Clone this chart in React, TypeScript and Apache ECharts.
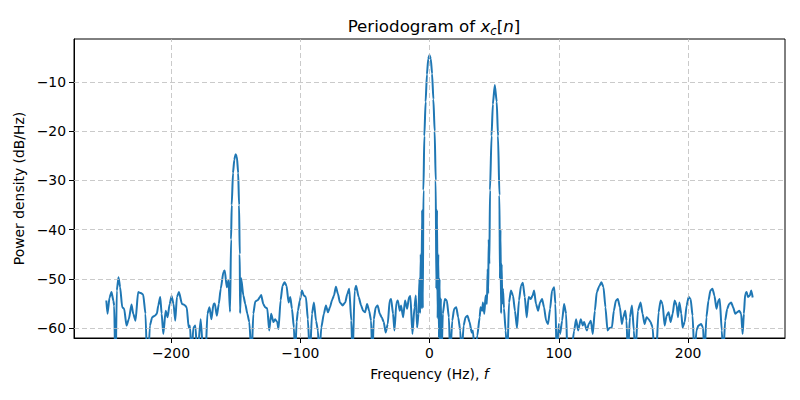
import React, { useEffect, useRef } from "react";
import * as echarts from "echarts";

const freqHz: number[] = [
  -250, -249.1, -247.5, -246, -244.5, -243.9, -242.9, -241.9, -240.6, -239.3, -237.7, -236.2, -234.4, -232.6, -230.5, -229.2, -227.4, -225.4, -223.3, -221.5,
  -219.7, -218.1, -216.3, -214.5, -212.4, -210.9, -209.8, -208.3, -207.2, -205.9, -204.1, -202.6, -201, -199.5, -198, -196.7, -195.4, -193.8, -191.5, -189.5,
  -187.8, -186.3, -185.3, -184, -182.7, -181.1, -179.6, -177, -174.9, -173.3, -171.8, -170.2, -168.7, -167.1, -166.1, -164.5, -163, -161.5, -159.4, -158.4,
  -156.8, -155.5, -154.3, -153.5, -153, -152, -151, -150, -149, -148, -147.3, -146.8, -146.5, -145.7, -144, -142.5, -140.9, -139.4, -137.6, -136.3,
  -134.8, -132.7, -131.2, -130.2, -128.6, -127.1, -125.5, -124, -122.5, -120.7, -119.4, -117.8, -116.8, -115.2, -113.7, -112.1, -110.6, -109, -107.7, -106.4,
  -104.9, -103.9, -102.8, -101.8, -100.3, -98.7, -97.2, -95.6, -94.1, -92.5, -90.9, -89.4, -87.8, -86.3, -85.3, -83.7, -81.7, -80.1, -78.6, -77,
  -75.5, -73.9, -72.4, -70.8, -69.3, -67.2, -65.2, -63.6, -62.1, -60.5, -59.5, -57.9, -56.8, -54.8, -52.9, -51.4, -49.8, -48.3, -46.7, -45.2,
  -44.2, -43.1, -41.6, -40.1, -38.5, -37, -35.4, -33.9, -32.3, -30.8, -29.7, -28.2, -27.1, -25.6, -24.5, -23, -22, -20.4, -18.9, -17.3,
  -15.8, -14.8, -13.2, -11.6, -10.6, -9.6, -8.5, -7.8, -7.3, -6.8, -6.3, -5.7, -5.2, -4.7, -4, -3, -2, -1, 0, 1,
  2, 3, 4, 4.8, 5.3, 5.8, 6.3, 6.8, 7.3, 7.8, 8.3, 8.8, 9.3, 10.3, 11.9, 13.4, 15, 16, 17.6, 19.1,
  20.7, 22.2, 23.8, 24.8, 26.4, 27.9, 29.4, 31, 32.6, 33.6, 35.1, 37, 38.8, 39.5, 40.8, 41.3, 42.4, 43.4, 44.4, 45,
  45.4, 45.8, 46.3, 46.8, 48, 49, 50.5, 52, 53, 54.1, 54.5, 54.9, 55.4, 55.8, 56.3, 56.8, 57.6, 58.9, 60.2, 61.5,
  63, 64.6, 66.1, 67.7, 69.2, 70.8, 72.2, 73.7, 75.2, 76.7, 78.3, 79.8, 80.9, 82.4, 84, 85.5, 87.1, 88.6, 90.2, 91.7,
  93.3, 94.8, 96.4, 97.4, 98.4, 100, 101, 102.6, 104.1, 105.7, 106.7, 109.3, 111.9, 113.4, 115, 117, 118.6, 119.6, 121.7, 123.2,
  124.8, 126.3, 127.9, 129.4, 131.5, 133, 134.6, 136.1, 137.7, 139.2, 141.1, 142.6, 144.2, 145.7, 147.3, 148.8, 149.9, 151.4, 152.4, 153.5,
  155, 156.6, 158.1, 159.2, 161.2, 163.3, 164.8, 166.4, 167.9, 169.5, 171, 172.6, 174.1, 175.2, 177.2, 178.8, 180.3, 181.9, 183.4, 185,
  186.5, 188.1, 189.6, 191.2, 192.2, 193.3, 194.8, 195.8, 197.4, 198.9, 200.5, 202, 203.5, 205, 206.5, 208, 210.1, 211.6, 212.7, 214.2,
  215.8, 217.3, 218.9, 220.4, 222, 223.5, 224.5, 226.1, 227.2, 228.7, 230.3, 231.8, 233.4, 234.9, 236.5, 238, 239.6, 241.1, 242.2, 243.2,
  244.2, 245.3, 246.3, 247.8, 248.9, 250,
];

const powerDb: number[] = [
  -54.4, -57.1, -53.8, -52.7, -54.5, -55.5, -70, -52.4, -49.7, -51.7, -55.8, -56.1, -59.5, -58.2, -55.2, -57.1, -58.5, -52.7, -52.9, -53.2,
  -57.1, -70, -59.5, -57.8, -57.5, -57.1, -55.4, -53.7, -57.1, -61.2, -56.5, -57.8, -55.1, -53.5, -55.1, -58.5, -53.7, -52.7, -55.1, -55.3,
  -55.8, -59.9, -59.5, -66, -59.9, -59.5, -66, -58.2, -66, -66, -57.1, -55.8, -58.2, -55.1, -55, -57.5, -55.1, -52, -48.6, -48.3,
  -51.7, -50.3, -56.7, -42, -35, -28.5, -25.8, -24.7, -25.2, -28.5, -35, -45, -57, -49.9, -53.4, -55.1, -57.1, -58.8, -66, -57.1,
  -54.6, -54.3, -53.7, -53.3, -55.1, -55.8, -56, -60.5, -57.1, -58.8, -58.2, -58.8, -60.2, -54.4, -51.4, -50.7, -51.4, -54.8, -53.7, -56.1,
  -59.9, -66, -58.8, -56.5, -54.4, -52.4, -53.4, -53.7, -58.2, -66, -57.1, -54.8, -58.5, -60.5, -66, -59.9, -57.1, -55.4, -56.8, -55.8,
  -54.4, -53.4, -51.6, -53.1, -54.8, -55.4, -54.8, -53.1, -52, -58.5, -66, -52.4, -51.4, -53.7, -55.4, -56.5, -56.8, -55.1, -56.5, -58.5,
  -66, -58.2, -55.8, -55.4, -57.1, -57.8, -58.8, -60.9, -59.2, -54.4, -54.1, -57.1, -60.5, -54.8, -54.4, -56.5, -55.4, -57.8, -54.4, -56.1,
  -53.7, -53.5, -61.2, -55.8, -53.4, -59.9, -57.1, -50, -57, -45, -56, -36, -56, -32, -21, -14, -8.5, -5.3, -4.5, -5.3,
  -8.3, -13.5, -20, -30, -52, -36, -58, -45, -62, -50, -66, -54, -66, -57.1, -54.1, -54.4, -57.8, -66, -58.5, -56.1,
  -55.8, -57.8, -60.5, -66, -59.5, -57.8, -57.5, -58.8, -60.9, -60.5, -66, -61.5, -57.8, -55.8, -56.5, -54.8, -57.1, -53.4, -55.1, -48,
  -53, -42, -47, -32, -21, -14.5, -10.6, -14, -21, -33, -50, -40, -57, -47, -55, -52, -56, -60.5, -66, -54.8,
  -52.4, -53.4, -56.5, -60, -54.4, -51.4, -50.8, -53.7, -57.8, -53.7, -54.1, -53.4, -52.4, -55.1, -56.5, -54.8, -54.1, -55.8, -58.5, -59.2,
  -56.1, -52.4, -51.7, -55.1, -66, -59.2, -61.2, -58.5, -55.1, -57.1, -66, -66, -60.5, -58.2, -60.5, -58.2, -59.5, -58.8, -60.5, -59.2,
  -58.5, -61.2, -56.5, -52.7, -51.4, -50.7, -51.7, -55.8, -60.5, -60, -59.9, -56.5, -54.4, -54.1, -55.8, -59.2, -57.8, -56.5, -58.5, -66,
  -57.8, -55.4, -60.5, -66, -56.5, -54.8, -57.1, -59.2, -57.8, -58.2, -58.8, -59.9, -66, -66, -56.8, -54.4, -55.1, -59.5, -57.5, -56.8,
  -58.8, -57.1, -54.4, -55.4, -57.8, -54.8, -57.1, -59.9, -58.8, -55.4, -53.7, -54.1, -57.5, -66, -60.5, -59.5, -59.2, -59.9, -66, -57.8,
  -54.4, -52.4, -52, -53.4, -56.1, -54.4, -54.1, -60.5, -66, -58.5, -56.1, -55.1, -54.8, -55.8, -57.1, -56.8, -56.5, -57.1, -61.2, -57.1,
  -53.1, -52.7, -53.7, -53.4, -52.4, -53.8,
];

const xTicks: number[] = [-200, -100, 0, 100, 200];
const yTicks: number[] = [-60, -50, -40, -30, -20, -10];

const fmt = (v: number) => (v < 0 ? "\u2212" + Math.abs(v) : String(v));

export default function App() {
  const ref = useRef<HTMLDivElement>(null);
  useEffect(() => {
    if (!ref.current) return;
    const chart = echarts.init(ref.current, undefined, { renderer: "svg" });
    const font = "DejaVu Sans";
    const data = freqHz.map((f, i) => [f, powerDb[i]]);
    chart.setOption({
      animation: false,
      backgroundColor: "#fff",
      textStyle: { fontFamily: font },
      title: {
        text: "{a|Periodogram of }{i|x}{s|c}{a|[}{i|n}{a|]}",
        left: 429,
        top: 10,
        textAlign: "center",
        textStyle: {
          fontWeight: "normal",
          rich: {
            a: { fontFamily: font, fontSize: 16.7, fontWeight: "normal", color: "#000" },
            i: { fontFamily: font, fontSize: 16.7, fontWeight: "normal", fontStyle: "italic", color: "#000" },
            s: { fontFamily: font, fontSize: 11.7, fontWeight: "normal", fontStyle: "italic", color: "#000", padding: [10, 0, 0, 0] },
          },
        },
      },
      grid: {
        left: 74,
        right: 15,
        top: 39,
        bottom: 62,
        show: true,
        borderColor: "#000",
        borderWidth: 1,
        backgroundColor: "transparent",
      },
      xAxis: {
        type: "value",
        min: -275,
        max: 275,
        name: "{a|Frequency (Hz), }{i|f}",
        nameLocation: "middle",
        nameGap: 29,
        nameTextStyle: {
          rich: {
            a: { fontFamily: font, fontSize: 13.9, color: "#000" },
            i: { fontFamily: font, fontSize: 13.9, fontStyle: "italic", color: "#000" },
          },
        },
        axisLine: { show: true, onZero: false, lineStyle: { color: "#000", width: 1 } },
        axisTick: { show: true, length: 5, customValues: xTicks, lineStyle: { color: "#000" } },
        axisLabel: { customValues: xTicks, formatter: fmt, color: "#000", fontSize: 13.9, fontFamily: font, margin: 8 },
        splitLine: { show: false },
      },
      yAxis: {
        type: "value",
        min: -62.03,
        max: -1.26,
        name: "Power density (dB/Hz)",
        nameLocation: "middle",
        nameGap: 46,
        nameTextStyle: { fontFamily: font, fontSize: 13.9, color: "#000" },
        axisLine: { show: true, onZero: false, lineStyle: { color: "#000", width: 1 } },
        axisTick: { show: true, length: 5, customValues: yTicks, lineStyle: { color: "#000" } },
        axisLabel: { customValues: yTicks, formatter: fmt, color: "#000", fontSize: 13.9, fontFamily: font, margin: 8 },
        splitLine: { show: false },
      },
      series: [
        {
          type: "line",
          data,
          showSymbol: false,
          symbol: "none",
          clip: true,
          smooth: 0.2,
          smoothMonotone: "x",
          lineStyle: { color: "#1f77b4", width: 2 },
          markLine: {
            silent: true,
            symbol: ["none", "none"],
            label: { show: false },
            lineStyle: { color: "#bdbdbd", width: 0.8, type: [5, 3] },
            data: [
              ...xTicks.map((v) => ({ xAxis: v })),
              ...yTicks.map((v) => ({ yAxis: v })),
            ],
          },
        },
      ],
    });
    return () => chart.dispose();
  }, []);
  return <div ref={ref} style={{ position: "absolute", left: 0, top: 0, width: 800, height: 400 }} />;
}
